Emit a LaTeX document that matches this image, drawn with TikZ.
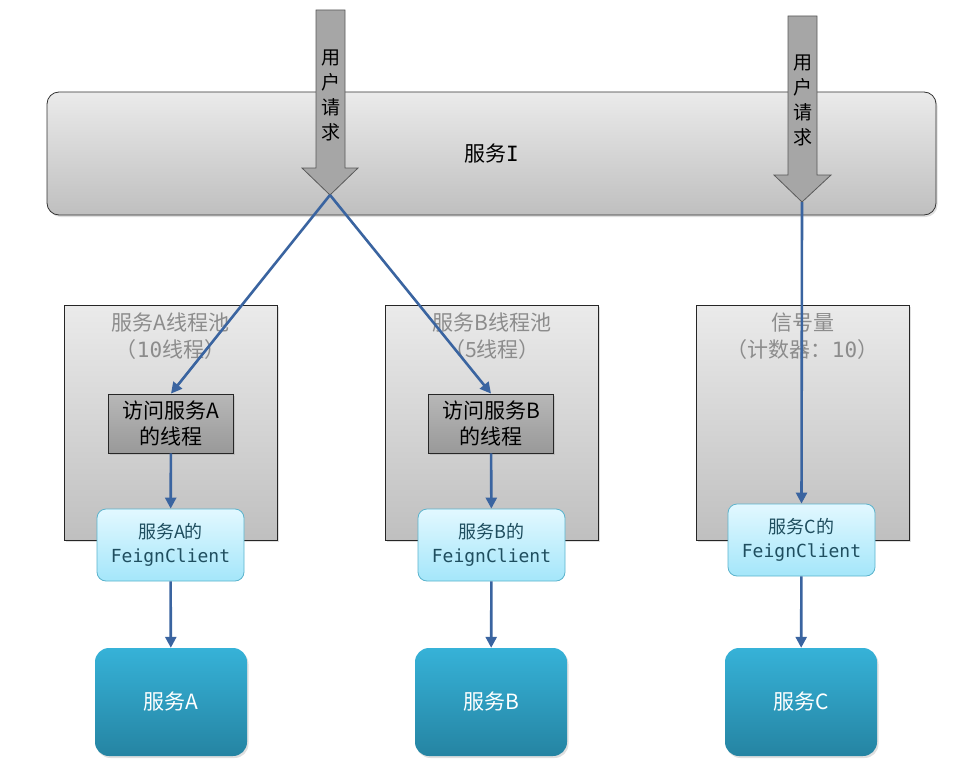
\documentclass[tikz,border=0pt]{standalone}
\usepackage{fontspec}
\setmainfont{Noto Sans CJK SC}
\setmonofont{DejaVu Sans Mono}
\usepackage{tikz}
\usetikzlibrary{arrows.meta,positioning,shadows}
\definecolor{lnBlue}{HTML}{3A64A0}
\definecolor{poolTxt}{HTML}{8C8C8C}
\definecolor{fgTxt}{HTML}{1F4E5F}
\definecolor{fgTop}{HTML}{E2F8FF}
\definecolor{fgBot}{HTML}{A4E6FA}
\definecolor{fgLine}{HTML}{5BB3CC}
\definecolor{svTop}{HTML}{36B2D8}
\definecolor{svBot}{HTML}{2584A2}

\begin{document}
\begin{tikzpicture}[
  x=1pt, y=-1pt,
  shad/.style={drop shadow={opacity=0.25, shadow xshift=1.5pt, shadow yshift=-2pt}},
  srv/.style={draw=black!80, line width=0.8pt, rounded corners=12pt, top color=black!8,
    bottom color=black!25, shad, minimum width=889pt, minimum height=123pt,
    font=\fontsize{21}{25}\selectfont},
  req/.style={draw=black!65, line width=0.8pt, fill=black!35},
  reqtxt/.style={align=center, font=\fontsize{19}{25}\selectfont},
  pool/.style={draw=black!85, line width=0.8pt, top color=black!8, bottom color=black!25,
    shad, minimum width=213pt, minimum height=235pt},
  pooltxt/.style={align=center, text=poolTxt, font=\fontsize{21}{27}\selectfont},
  thr/.style={draw=black!85, line width=0.8pt, top color=black!28, bottom color=black!40,
    shad, minimum width=125pt, minimum height=59pt, align=center,
    font=\fontsize{21}{26}\selectfont},
  feign/.style={draw=fgLine, line width=0.8pt, rounded corners=9pt, top color=fgTop,
    bottom color=fgBot, minimum width=147pt, minimum height=72pt, align=center,
    text=fgTxt, font=\fontsize{18}{24}\selectfont},
  svc/.style={draw=none, rounded corners=14pt, top color=svTop, bottom color=svBot,
    shad, minimum width=152pt, minimum height=108pt, text=white,
    font=\fontsize{21}{25}\selectfont},
  conn/.style={draw=lnBlue, line width=2.6pt, -{Triangle[length=11pt,width=11pt]}},
]
\useasboundingbox (0,0) rectangle (968,781);

\node[srv] (srvI) at (491.5,153.5) {服务{\ttfamily I}};

\coordinate (t1) at (330,195);
\coordinate (t2) at (802,202);
\draw[req] (316,10) -- (345,10) -- (345,168) -- (358,168) -- (t1) -- (302,168) -- (316,168) -- cycle;
\draw[req] (788,16) -- (817,16) -- (817,175) -- (831,175) -- (t2) -- (774,175) -- (788,175) -- cycle;
\node[reqtxt] (r1) at (330.5,95) {用\\户\\请\\求};
\node[reqtxt] (r2) at (802.5,100) {用\\户\\请\\求};

\node[pool] (poolA) at (170.5,422.5) {};
\node[pool] (poolB) at (492,422.5) {};
\node[pool] (poolC) at (802.5,422.5) {};
\node[pooltxt] (ptA) at (170.5,336.5) {服务A线程池\\（{\ttfamily 10}线程）};
\node[pooltxt] (ptB) at (492,336.5) {服务B线程池\\（5线程）};
\node[pooltxt] (ptC) at (802.5,336.5) {信号量\\（计数器：{\ttfamily 10}）};

\node[thr] (thrA) at (171,423.5) {访问服务A\\的线程};
\node[thr] (thrB) at (491,423.5) {访问服务B\\的线程};

\node[feign] (fgA) at (170.5,545) {服务A的\\{\ttfamily FeignClient}};
\node[feign] (fgB) at (491.5,545) {服务B的\\{\ttfamily FeignClient}};
\node[feign] (fgC) at (801.5,540) {服务C的\\{\ttfamily FeignClient}};

\node[svc] (svA) at (171,702) {服务A};
\node[svc] (svB) at (491,702) {服务B};
\node[svc] (svC) at (801,702) {服务C};

\draw[conn] (t1) -- (thrA.north);
\draw[conn] (t1) -- (thrB.north);
\draw[conn] (t2) -- (fgC.north);
\draw[conn] (thrA) -- (fgA);
\draw[conn] (thrB) -- (fgB);
\draw[conn] (fgA) -- (svA);
\draw[conn] (fgB) -- (svB);
\draw[conn] (fgC) -- (svC);
\end{tikzpicture}
\end{document}
